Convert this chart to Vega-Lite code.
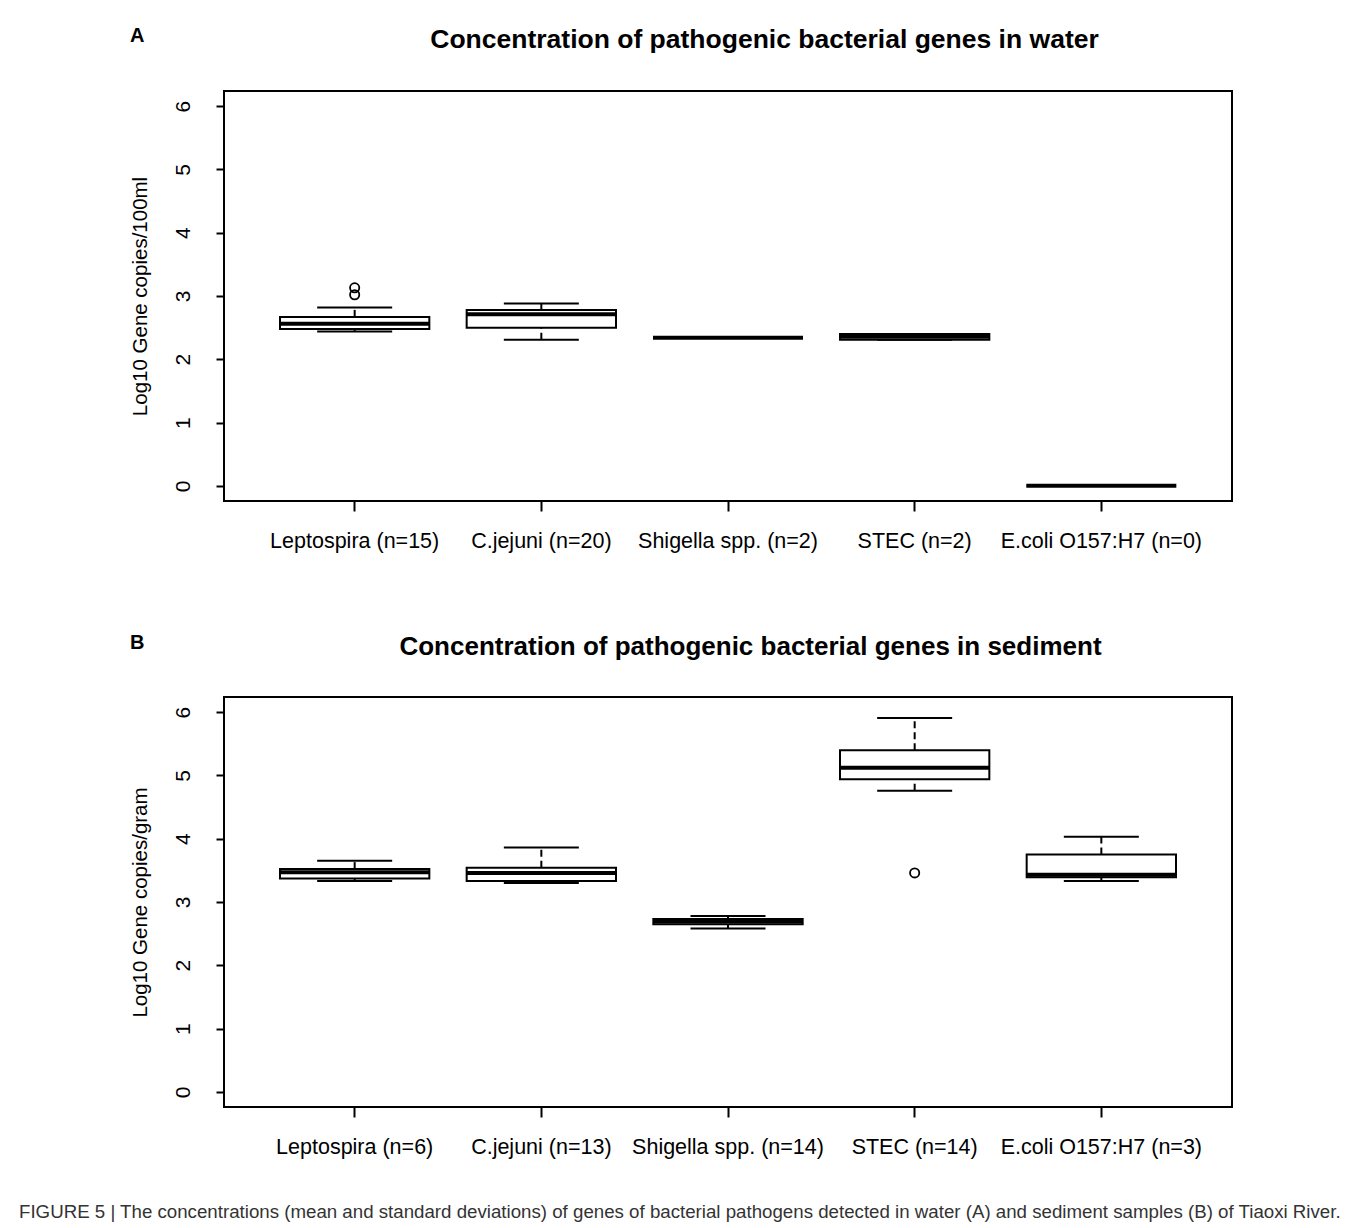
{
  "$schema": "https://vega.github.io/schema/vega-lite/v6.json",
  "background": "white",
  "padding": {"left": 19, "top": 25, "right": 0, "bottom": 0},
  "spacing": 79,
  "config": {
    "font": "Liberation Sans",
    "view": {"stroke": "black", "strokeWidth": 2},
    "axis": {"grid": false, "domain": false, "labelColor": "black", "titleColor": "black", "tickColor": "black", "labelFont": "Liberation Sans", "titleFont": "Liberation Sans", "labelLimit": 400},
    "title": {"font": "Liberation Sans", "color": "black"}
  },
  "title": {
    "text": "FIGURE 5 | The concentrations (mean and standard deviations) of genes of bacterial pathogens detected in water (A) and sediment samples (B) of Tiaoxi River.",
    "orient": "bottom",
    "anchor": "start",
    "frame": "bounds",
    "fontSize": 18.7,
    "fontWeight": "normal",
    "color": "#333333",
    "dx": -110,
    "offset": 44,
    "limit": 1400
  },
  "datasets": {
    "water": [
      {"group": "Leptospira (n=15)", "lower": 2.44, "q1": 2.48, "median": 2.56, "q3": 2.67, "upper": 2.82},
      {"group": "C.jejuni (n=20)", "lower": 2.31, "q1": 2.5, "median": 2.71, "q3": 2.78, "upper": 2.88},
      {"group": "Shigella spp. (n=2)", "lower": 2.34, "q1": 2.34, "median": 2.34, "q3": 2.34, "upper": 2.34},
      {"group": "STEC (n=2)", "lower": 2.31, "q1": 2.31, "median": 2.355, "q3": 2.4, "upper": 2.4},
      {"group": "E.coli O157:H7 (n=0)", "lower": 0, "q1": 0, "median": 0, "q3": 0, "upper": 0}
    ],
    "waterOut": [
      {"group": "Leptospira (n=15)", "value": 3.02},
      {"group": "Leptospira (n=15)", "value": 3.13}
    ],
    "sediment": [
      {"group": "Leptospira (n=6)", "lower": 3.33, "q1": 3.37, "median": 3.47, "q3": 3.52, "upper": 3.65},
      {"group": "C.jejuni (n=13)", "lower": 3.3, "q1": 3.33, "median": 3.46, "q3": 3.54, "upper": 3.86},
      {"group": "Shigella spp. (n=14)", "lower": 2.58, "q1": 2.65, "median": 2.69, "q3": 2.73, "upper": 2.78},
      {"group": "STEC (n=14)", "lower": 4.76, "q1": 4.94, "median": 5.12, "q3": 5.4, "upper": 5.91},
      {"group": "E.coli O157:H7 (n=3)", "lower": 3.33, "q1": 3.39, "median": 3.43, "q3": 3.75, "upper": 4.03}
    ],
    "sedOut": [
      {"group": "STEC (n=14)", "value": 3.46}
    ]
  },
  "vconcat": [
    {
      "width": 1008,
      "height": 410,
      "title": {"text": "A", "anchor": "start", "frame": "bounds", "fontSize": 20, "fontWeight": "bold", "dy": 24},
      "data": {"name": "water"},
      "resolve": {"axis": {"x": "independent"}},
      "layer": [
        {
          "mark": {"type": "rule", "strokeDash": [7, 4], "strokeWidth": 2, "color": "black"},
          "encoding": {
            "x": {"field": "group", "type": "nominal", "sort": null, "scale": {"domain": ["Leptospira (n=15)", "C.jejuni (n=20)", "Shigella spp. (n=2)", "STEC (n=2)", "E.coli O157:H7 (n=0)"], "paddingInner": 0.2, "paddingOuter": 0.3}, "axis": {"orient": "bottom", "title": null, "labelAngle": 0, "labelFontSize": 21.5, "tickSize": 10, "tickWidth": 2, "labelPadding": 19}},
            "y": {"field": "lower", "type": "quantitative", "scale": {"domain": [-0.24, 6.24], "nice": false, "zero": false}, "axis": {"title": "Log10 Gene copies/100ml", "values": [0, 1, 2, 3, 4, 5, 6], "format": "d", "labelAngle": -90, "labelAlign": "center", "labelBaseline": "bottom", "labelFontSize": 21, "tickSize": 8, "tickWidth": 2, "labelPadding": 23, "titleFontSize": 20.5, "titleFontWeight": "normal", "titlePadding": 22}},
            "y2": {"field": "q1"}
          }
        },
        {
          "mark": {"type": "rule", "strokeDash": [7, 4], "strokeWidth": 2, "color": "black"},
          "encoding": {
            "x": {"field": "group", "type": "nominal", "sort": null, "scale": {"domain": ["Leptospira (n=15)", "C.jejuni (n=20)", "Shigella spp. (n=2)", "STEC (n=2)", "E.coli O157:H7 (n=0)"], "paddingInner": 0.2, "paddingOuter": 0.3}, "axis": null},
            "y": {"field": "q3", "type": "quantitative", "scale": {"domain": [-0.24, 6.24], "nice": false, "zero": false}, "axis": {"title": "Log10 Gene copies/100ml"}},
            "y2": {"field": "upper"}
          }
        },
        {
          "mark": {"type": "tick", "size": 75, "thickness": 2, "color": "black", "opacity": 1},
          "encoding": {
            "x": {"field": "group", "type": "nominal", "sort": null, "scale": {"domain": ["Leptospira (n=15)", "C.jejuni (n=20)", "Shigella spp. (n=2)", "STEC (n=2)", "E.coli O157:H7 (n=0)"], "paddingInner": 0.2, "paddingOuter": 0.3}, "axis": null},
            "y": {"field": "lower", "type": "quantitative", "scale": {"domain": [-0.24, 6.24], "nice": false, "zero": false}, "axis": {"title": "Log10 Gene copies/100ml"}}
          }
        },
        {
          "mark": {"type": "tick", "size": 75, "thickness": 2, "color": "black", "opacity": 1},
          "encoding": {
            "x": {"field": "group", "type": "nominal", "sort": null, "scale": {"domain": ["Leptospira (n=15)", "C.jejuni (n=20)", "Shigella spp. (n=2)", "STEC (n=2)", "E.coli O157:H7 (n=0)"], "paddingInner": 0.2, "paddingOuter": 0.3}, "axis": null},
            "y": {"field": "upper", "type": "quantitative", "scale": {"domain": [-0.24, 6.24], "nice": false, "zero": false}, "axis": {"title": "Log10 Gene copies/100ml"}}
          }
        },
        {
          "mark": {"type": "bar", "fill": "white", "stroke": "black", "strokeWidth": 2, "opacity": 1},
          "encoding": {
            "x": {"field": "group", "type": "nominal", "sort": null, "scale": {"domain": ["Leptospira (n=15)", "C.jejuni (n=20)", "Shigella spp. (n=2)", "STEC (n=2)", "E.coli O157:H7 (n=0)"], "paddingInner": 0.2, "paddingOuter": 0.3}, "axis": null},
            "y": {"field": "q1", "type": "quantitative", "scale": {"domain": [-0.24, 6.24], "nice": false, "zero": false}, "axis": {"title": "Log10 Gene copies/100ml"}},
            "y2": {"field": "q3"}
          }
        },
        {
          "mark": {"type": "tick", "size": 150, "thickness": 4, "color": "black", "opacity": 1},
          "encoding": {
            "x": {"field": "group", "type": "nominal", "sort": null, "scale": {"domain": ["Leptospira (n=15)", "C.jejuni (n=20)", "Shigella spp. (n=2)", "STEC (n=2)", "E.coli O157:H7 (n=0)"], "paddingInner": 0.2, "paddingOuter": 0.3}, "axis": {"orient": "top", "labels": false, "ticks": false, "domain": false, "title": "Concentration of pathogenic bacterial genes in water", "titleFontSize": 26.5, "titleFontWeight": "bold", "titlePadding": 38, "titleX": 540}},
            "y": {"field": "median", "type": "quantitative", "scale": {"domain": [-0.24, 6.24], "nice": false, "zero": false}, "axis": {"title": "Log10 Gene copies/100ml"}}
          }
        },
        {
          "data": {"name": "waterOut"},
          "mark": {"type": "point", "shape": "circle", "filled": false, "stroke": "black", "strokeWidth": 1.8, "size": 85, "opacity": 1},
          "encoding": {
            "x": {"field": "group", "type": "nominal", "sort": null, "scale": {"domain": ["Leptospira (n=15)", "C.jejuni (n=20)", "Shigella spp. (n=2)", "STEC (n=2)", "E.coli O157:H7 (n=0)"], "paddingInner": 0.2, "paddingOuter": 0.3}, "axis": null},
            "y": {"field": "value", "type": "quantitative", "scale": {"domain": [-0.24, 6.24], "nice": false, "zero": false}, "axis": {"title": "Log10 Gene copies/100ml"}}
          }
        }
      ]
    },
    {
      "width": 1008,
      "height": 410,
      "title": {"text": "B", "anchor": "start", "frame": "bounds", "fontSize": 20, "fontWeight": "bold", "dy": 24},
      "data": {"name": "sediment"},
      "resolve": {"axis": {"x": "independent"}},
      "layer": [
        {
          "mark": {"type": "rule", "strokeDash": [7, 4], "strokeWidth": 2, "color": "black"},
          "encoding": {
            "x": {"field": "group", "type": "nominal", "sort": null, "scale": {"domain": ["Leptospira (n=6)", "C.jejuni (n=13)", "Shigella spp. (n=14)", "STEC (n=14)", "E.coli O157:H7 (n=3)"], "paddingInner": 0.2, "paddingOuter": 0.3}, "axis": {"orient": "bottom", "title": null, "labelAngle": 0, "labelFontSize": 21.5, "tickSize": 10, "tickWidth": 2, "labelPadding": 19}},
            "y": {"field": "lower", "type": "quantitative", "scale": {"domain": [-0.24, 6.24], "nice": false, "zero": false}, "axis": {"title": "Log10 Gene copies/gram", "values": [0, 1, 2, 3, 4, 5, 6], "format": "d", "labelAngle": -90, "labelAlign": "center", "labelBaseline": "bottom", "labelFontSize": 21, "tickSize": 8, "tickWidth": 2, "labelPadding": 23, "titleFontSize": 20.5, "titleFontWeight": "normal", "titlePadding": 22}},
            "y2": {"field": "q1"}
          }
        },
        {
          "mark": {"type": "rule", "strokeDash": [7, 4], "strokeWidth": 2, "color": "black"},
          "encoding": {
            "x": {"field": "group", "type": "nominal", "sort": null, "scale": {"domain": ["Leptospira (n=6)", "C.jejuni (n=13)", "Shigella spp. (n=14)", "STEC (n=14)", "E.coli O157:H7 (n=3)"], "paddingInner": 0.2, "paddingOuter": 0.3}, "axis": null},
            "y": {"field": "q3", "type": "quantitative", "scale": {"domain": [-0.24, 6.24], "nice": false, "zero": false}, "axis": {"title": "Log10 Gene copies/gram"}},
            "y2": {"field": "upper"}
          }
        },
        {
          "mark": {"type": "tick", "size": 75, "thickness": 2, "color": "black", "opacity": 1},
          "encoding": {
            "x": {"field": "group", "type": "nominal", "sort": null, "scale": {"domain": ["Leptospira (n=6)", "C.jejuni (n=13)", "Shigella spp. (n=14)", "STEC (n=14)", "E.coli O157:H7 (n=3)"], "paddingInner": 0.2, "paddingOuter": 0.3}, "axis": null},
            "y": {"field": "lower", "type": "quantitative", "scale": {"domain": [-0.24, 6.24], "nice": false, "zero": false}, "axis": {"title": "Log10 Gene copies/gram"}}
          }
        },
        {
          "mark": {"type": "tick", "size": 75, "thickness": 2, "color": "black", "opacity": 1},
          "encoding": {
            "x": {"field": "group", "type": "nominal", "sort": null, "scale": {"domain": ["Leptospira (n=6)", "C.jejuni (n=13)", "Shigella spp. (n=14)", "STEC (n=14)", "E.coli O157:H7 (n=3)"], "paddingInner": 0.2, "paddingOuter": 0.3}, "axis": null},
            "y": {"field": "upper", "type": "quantitative", "scale": {"domain": [-0.24, 6.24], "nice": false, "zero": false}, "axis": {"title": "Log10 Gene copies/gram"}}
          }
        },
        {
          "mark": {"type": "bar", "fill": "white", "stroke": "black", "strokeWidth": 2, "opacity": 1},
          "encoding": {
            "x": {"field": "group", "type": "nominal", "sort": null, "scale": {"domain": ["Leptospira (n=6)", "C.jejuni (n=13)", "Shigella spp. (n=14)", "STEC (n=14)", "E.coli O157:H7 (n=3)"], "paddingInner": 0.2, "paddingOuter": 0.3}, "axis": null},
            "y": {"field": "q1", "type": "quantitative", "scale": {"domain": [-0.24, 6.24], "nice": false, "zero": false}, "axis": {"title": "Log10 Gene copies/gram"}},
            "y2": {"field": "q3"}
          }
        },
        {
          "mark": {"type": "tick", "size": 150, "thickness": 4, "color": "black", "opacity": 1},
          "encoding": {
            "x": {"field": "group", "type": "nominal", "sort": null, "scale": {"domain": ["Leptospira (n=6)", "C.jejuni (n=13)", "Shigella spp. (n=14)", "STEC (n=14)", "E.coli O157:H7 (n=3)"], "paddingInner": 0.2, "paddingOuter": 0.3}, "axis": {"orient": "top", "labels": false, "ticks": false, "domain": false, "title": "Concentration of pathogenic bacterial genes in sediment", "titleFontSize": 26, "titleFontWeight": "bold", "titlePadding": 38, "titleX": 526}},
            "y": {"field": "median", "type": "quantitative", "scale": {"domain": [-0.24, 6.24], "nice": false, "zero": false}, "axis": {"title": "Log10 Gene copies/gram"}}
          }
        },
        {
          "data": {"name": "sedOut"},
          "mark": {"type": "point", "shape": "circle", "filled": false, "stroke": "black", "strokeWidth": 1.8, "size": 85, "opacity": 1},
          "encoding": {
            "x": {"field": "group", "type": "nominal", "sort": null, "scale": {"domain": ["Leptospira (n=6)", "C.jejuni (n=13)", "Shigella spp. (n=14)", "STEC (n=14)", "E.coli O157:H7 (n=3)"], "paddingInner": 0.2, "paddingOuter": 0.3}, "axis": null},
            "y": {"field": "value", "type": "quantitative", "scale": {"domain": [-0.24, 6.24], "nice": false, "zero": false}, "axis": {"title": "Log10 Gene copies/gram"}}
          }
        }
      ]
    }
  ]
}
